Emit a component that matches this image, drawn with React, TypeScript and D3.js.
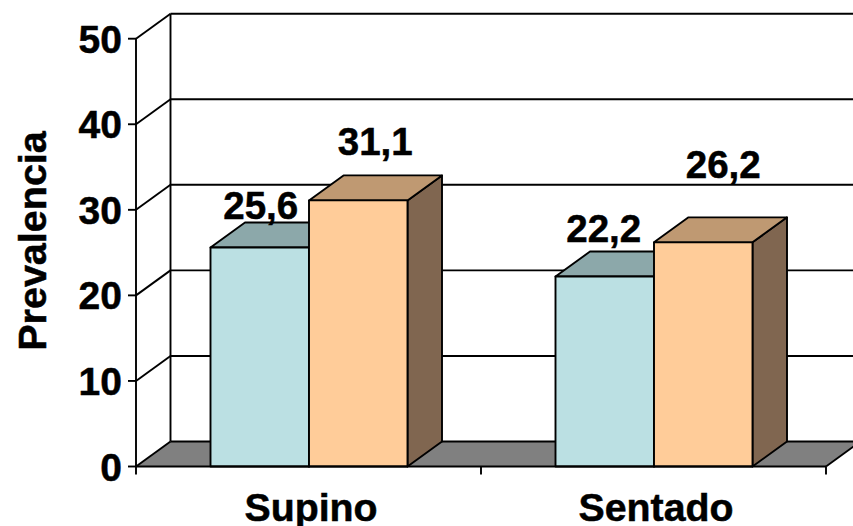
import React from "react";
import * as d3 from "d3";

const categories = ["Supino", "Sentado"];
const seriesA = [25.6, 22.2];
const seriesB = [31.1, 26.2];
const valueLabelsA = ["25,6", "22,2"];
const valueLabelsB = ["31,1", "26,2"];
const yTicks = [0, 10, 20, 30, 40, 50];
const yTitle = "Prevalencia";

const W = 853, H = 526;
const X0 = 136, X1 = 826, Y0 = 466.5, Y50 = 38.7;
const DX = 34.5, DY = 25;
const FONT = "'Liberation Sans', Arial, sans-serif";
const LINE = 1.9;

const blue = { front: "#BBE0E3", top: "#8CA8AA", side: "#8CA8AA" };
const orange = { front: "#FFCC99", top: "#BF9972", side: "#806650" };

const y = d3.scaleLinear().domain([0, 50]).range([Y0, Y50]);
const xCat = d3.scaleBand<string>().domain(categories).range([X0, X1]).paddingInner(0).paddingOuter(0);
const xSeries = d3.scaleBand<string>().domain(["a", "b"]).range([74.5, 271.5]);

const pts = (p: [number, number][]) => p.map((q) => q.join(",")).join(" ");

function Bar({ x, w, v, c }: { x: number; w: number; v: number; c: typeof blue }) {
  const t = y(v);
  return (
    <g stroke="#000" strokeWidth={LINE} strokeLinejoin="round">
      <polygon fill={c.side} points={pts([[x + w, Y0], [x + w + DX, Y0 - DY], [x + w + DX, t - DY], [x + w, t]])} />
      <polygon fill={c.top} points={pts([[x, t], [x + DX, t - DY], [x + w + DX, t - DY], [x + w, t]])} />
      <rect x={x} y={t} width={w} height={Y0 - t} fill={c.front} />
    </g>
  );
}

export default function App() {
  const w = xSeries.bandwidth();
  const textA = [[1, -28], [-1, -35]];
  const textB = [[17, -45], [20, -64]];
  return (
    <svg width={W} height={H} viewBox={`0 0 ${W} ${H}`} style={{ position: "absolute", left: 0, top: 0, background: "#fff" }} fontFamily={FONT} fontWeight="bold" fill="#000">
      <polygon fill="#808080" points={pts([[X0, Y0], [X0 + DX, Y0 - DY], [X1 + DX, Y0 - DY], [X1, Y0]])} />
      {yTicks.map((t) => (
        <g key={t} stroke="#000" strokeWidth={LINE}>
          {t > 0 && <line x1={X0 + DX} x2={W} y1={y(t) - DY} y2={y(t) - DY} />}
          {t === 0 && <line x1={X0 + DX} x2={X1 + DX} y1={y(t) - DY} y2={y(t) - DY} stroke="#000" />}
          <line x1={X0} x2={X0 + DX} y1={y(t)} y2={y(t) - DY} />
          <line x1={X0 - 8} x2={X0} y1={y(t)} y2={y(t)} />
        </g>
      ))}
      <line x1={X0} x2={X0} y1={Y50} y2={Y0} stroke="#000" strokeWidth={LINE} />
      <line x1={X0 + DX} x2={X0 + DX} y1={Y50 - DY} y2={Y0 - DY} stroke="#000" strokeWidth={LINE} />
      <line x1={X1} x2={X1 + DX} y1={Y0} y2={Y0 - DY} stroke="#000" strokeWidth={LINE} />
      {[X0, xCat(categories[1])!, X1].map((x) => (
        <line key={x} x1={x} x2={x} y1={Y0} y2={Y0 + 8} stroke="#000" strokeWidth={LINE} />
      ))}
      {categories.map((c, i) => {
        const b = xCat(c)!;
        return (
          <g key={c}>
            <Bar x={b + xSeries("a")!} w={w} v={seriesA[i]} c={blue} />
            <Bar x={b + xSeries("b")!} w={w} v={seriesB[i]} c={orange} />
          </g>
        );
      })}
      <line x1={X0} x2={X1} y1={Y0} y2={Y0} stroke="#000" strokeWidth={2.2} />
      <g stroke="#000" strokeWidth={0.5}>
        {categories.map((c, i) => {
          const b = xCat(c)!;
          return (
            <g key={c} fontSize={38.5} textAnchor="middle">
              <text x={b + xSeries("a")! + w / 2 + textA[i][0]} y={y(seriesA[i]) + textA[i][1]}>{valueLabelsA[i]}</text>
              <text x={b + xSeries("b")! + w / 2 + textB[i][0]} y={y(seriesB[i]) + textB[i][1]}>{valueLabelsB[i]}</text>
              <text x={b + xCat.bandwidth() / 2 + 2.5} y={521} fontSize={39.3}>{c}</text>
            </g>
          );
        })}
        {yTicks.map((t) => (
          <text key={t} x={122} y={y(t) + 14} textAnchor="end" fontSize={39}>{t}</text>
        ))}
        <text transform="translate(46,241) rotate(-90)" textAnchor="middle" fontSize={39.5}>{yTitle}</text>
      </g>
    </svg>
  );
}
